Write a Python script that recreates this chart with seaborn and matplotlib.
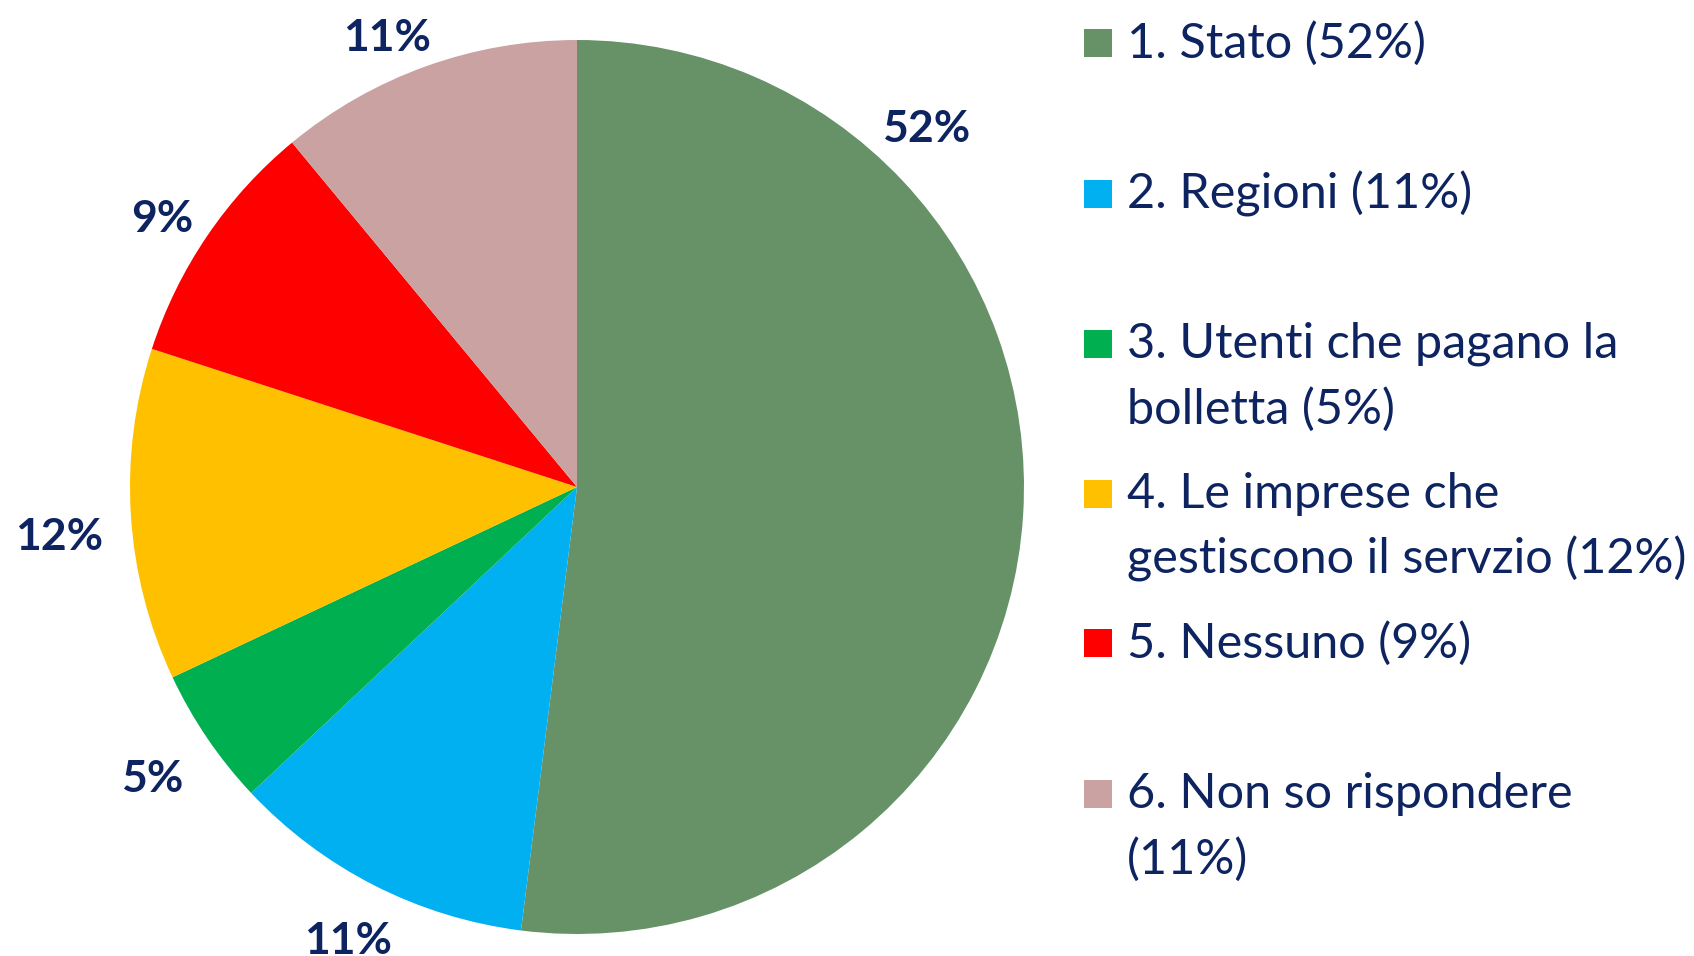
import numpy as np
import matplotlib
matplotlib.use("Agg")
import matplotlib.pyplot as plt
from matplotlib.patches import Rectangle
import seaborn as sns

sns.set_theme(style="white")
plt.rcParams['font.family'] = ['Lato', 'DejaVu Sans']

# ---- data ----
categories = ["1. Stato (52%)", "2. Regioni (11%)", "3. Utenti che pagano la\nbolletta (5%)",
              "4. Le imprese che\ngestiscono il servzio (12%)", "5. Nessuno (9%)",
              "6. Non so rispondere\n(11%)"]
values = [52, 11, 5, 12, 9, 11]
colors = ["#679268", "#00B0F0", "#00B050", "#FFC000", "#FF0000", "#CBA2A2"]

TXT = "#0D2461"
W, H = 1694, 956
fig = plt.figure(figsize=(W / 100, H / 100), dpi=100)

cx, cy, r = 577, 487, 447
ax = fig.add_axes([(cx - r) / W, 1 - (cy + r) / H, 2 * r / W, 2 * r / H])

wedges, texts, autotexts = ax.pie(
    values, colors=colors, startangle=90, counterclock=False, radius=1,
    autopct=lambda p: f"{p:.0f}%", pctdistance=1.13,
    wedgeprops=dict(linewidth=0),
    textprops=dict(color=TXT, fontsize=32, fontweight='bold'))
ax.set_xlim(-1, 1)
ax.set_ylim(-1, 1)
ax.set_aspect('equal')
ax.axis('off')

# label placement (distance / angle offsets per slice, like Excel's best fit)
label_dist = [1.124, 1.13, 1.15, 1.164, 1.108, 1.098]
label_shift = [0, 0, 0, 1.5, 1.0, 3.0]   # degrees, counter-clockwise
cum = np.cumsum([0] + values[:-1])
for i, t in enumerate(autotexts):
    t.set_clip_on(False)
    if i == 0:
        ang = np.deg2rad(46)
    else:
        ang = np.deg2rad(90 - 3.6 * (cum[i] + values[i] / 2) + label_shift[i])
    t.set_position((label_dist[i] * np.cos(ang), label_dist[i] * np.sin(ang)))
    t.set_ha('center')
    t.set_va('center_baseline')

# ---- legend (manual layout) ----
entry_y = [43, 194, 344, 494, 643, 794]
line_gap = 65
tx = 1127
sq_x0, sq = 1084, 28
for lab, col, y in zip(categories, colors, entry_y):
    fig.patches.append(Rectangle((sq_x0 / W, 1 - (y + sq / 2) / H), sq / W, sq / H,
                                 transform=fig.transFigure, facecolor=col, edgecolor='none'))
    for k, line in enumerate(lab.split("\n")):
        fig.text(tx / W, 1 - (y + k * line_gap) / H, line, ha='left', va='center',
                 color=TXT, fontsize=35)

fig.savefig("out.png", dpi=100, facecolor='white')
